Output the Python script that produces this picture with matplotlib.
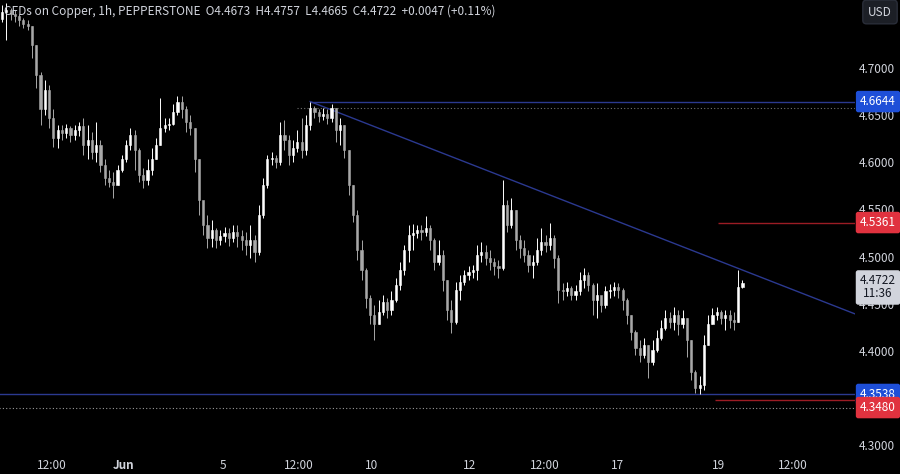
import matplotlib
matplotlib.use("Agg")
import matplotlib.pyplot as plt
import numpy as np

plt.rcParams['font.family'] = ['Noto Sans CJK JP', 'DejaVu Sans']

# 2-hour bars (prices in USD)
closes = [4.759, 4.761, 4.757, 4.755, 4.751, 4.747, 4.745, 4.724, 4.693, 4.656,
          4.677, 4.647, 4.626, 4.634, 4.631, 4.636, 4.629, 4.634, 4.639, 4.618,
          4.624, 4.611, 4.618, 4.597, 4.583, 4.579, 4.576, 4.592, 4.603, 4.618,
          4.629, 4.613, 4.587, 4.581, 4.592, 4.603, 4.618, 4.636, 4.640, 4.641,
          4.653, 4.664, 4.656, 4.643, 4.636, 4.603, 4.560, 4.534, 4.520, 4.528,
          4.518, 4.522, 4.525, 4.520, 4.526, 4.522, 4.518, 4.512, 4.518, 4.505,
          4.544, 4.576, 4.603, 4.605, 4.600, 4.629, 4.624, 4.608, 4.615, 4.622,
          4.613, 4.640, 4.658, 4.653, 4.649, 4.651, 4.647, 4.658, 4.634, 4.640,
          4.613, 4.576, 4.544, 4.507, 4.486, 4.456, 4.438, 4.428, 4.441, 4.452,
          4.443, 4.454, 4.470, 4.486, 4.507, 4.523, 4.525, 4.528, 4.526, 4.530,
          4.518, 4.494, 4.502, 4.475, 4.443, 4.431, 4.465, 4.473, 4.480, 4.484,
          4.486, 4.502, 4.505, 4.499, 4.494, 4.490, 4.488, 4.555, 4.534, 4.549,
          4.518, 4.509, 4.502, 4.491, 4.494, 4.507, 4.516, 4.512, 4.520, 4.499,
          4.465, 4.463, 4.467, 4.459, 4.463, 4.475, 4.480, 4.470, 4.454, 4.459,
          4.449, 4.463, 4.465, 4.468, 4.465, 4.454, 4.438, 4.420, 4.403, 4.396,
          4.406, 4.388, 4.401, 4.414, 4.424, 4.435, 4.431, 4.438, 4.428, 4.435,
          4.412, 4.378, 4.361, 4.364, 4.406, 4.428, 4.438, 4.441, 4.435, 4.438,
          4.433, 4.431, 4.4673, 4.4722]

highs = [4.767, 4.769, 4.764, 4.761, 4.757, 4.753, 4.751, 4.745, 4.724, 4.696,
         4.687, 4.682, 4.656, 4.640, 4.640, 4.641, 4.638, 4.640, 4.643, 4.647,
         4.640, 4.632, 4.643, 4.624, 4.603, 4.592, 4.590, 4.597, 4.608, 4.624,
         4.636, 4.634, 4.615, 4.594, 4.603, 4.615, 4.626, 4.668, 4.647, 4.647,
         4.662, 4.670, 4.670, 4.660, 4.650, 4.636, 4.603, 4.555, 4.544, 4.539,
         4.530, 4.528, 4.531, 4.530, 4.533, 4.533, 4.528, 4.526, 4.534, 4.523,
         4.555, 4.583, 4.608, 4.611, 4.608, 4.643, 4.645, 4.629, 4.624, 4.634,
         4.647, 4.650, 4.6644, 4.660, 4.656, 4.658, 4.656, 4.662, 4.658, 4.647,
         4.640, 4.613, 4.576, 4.549, 4.518, 4.488, 4.459, 4.449, 4.454, 4.459,
         4.456, 4.463, 4.477, 4.494, 4.512, 4.534, 4.535, 4.534, 4.533, 4.543,
         4.534, 4.520, 4.518, 4.507, 4.475, 4.454, 4.473, 4.481, 4.486, 4.490,
         4.491, 4.512, 4.516, 4.512, 4.507, 4.499, 4.496, 4.581, 4.560, 4.562,
         4.549, 4.523, 4.518, 4.507, 4.502, 4.520, 4.530, 4.523, 4.536, 4.523,
         4.502, 4.472, 4.473, 4.469, 4.470, 4.484, 4.488, 4.484, 4.472, 4.472,
         4.456, 4.469, 4.471, 4.473, 4.472, 4.467, 4.456, 4.438, 4.422, 4.412,
         4.414, 4.406, 4.412, 4.422, 4.433, 4.443, 4.441, 4.447, 4.443, 4.443,
         4.435, 4.412, 4.380, 4.373, 4.417, 4.438, 4.446, 4.447, 4.443, 4.443,
         4.443, 4.441, 4.486, 4.4757]

lows = [4.749, 4.730, 4.751, 4.749, 4.745, 4.742, 4.740, 4.711, 4.679, 4.640,
        4.650, 4.636, 4.616, 4.615, 4.624, 4.626, 4.622, 4.624, 4.628, 4.608,
        4.603, 4.603, 4.600, 4.590, 4.576, 4.574, 4.562, 4.576, 4.590, 4.600,
        4.613, 4.592, 4.579, 4.573, 4.576, 4.587, 4.603, 4.618, 4.632, 4.634,
        4.640, 4.650, 4.647, 4.632, 4.629, 4.590, 4.544, 4.523, 4.509, 4.510,
        4.509, 4.512, 4.516, 4.511, 4.516, 4.510, 4.507, 4.502, 4.499, 4.494,
        4.502, 4.541, 4.573, 4.597, 4.594, 4.597, 4.613, 4.597, 4.600, 4.611,
        4.605, 4.608, 4.634, 4.647, 4.643, 4.645, 4.641, 4.643, 4.622, 4.618,
        4.605, 4.565, 4.537, 4.496, 4.475, 4.446, 4.428, 4.412, 4.428, 4.438,
        4.435, 4.438, 4.452, 4.465, 4.481, 4.494, 4.507, 4.520, 4.518, 4.522,
        4.507, 4.486, 4.491, 4.463, 4.433, 4.419, 4.428, 4.454, 4.470, 4.475,
        4.477, 4.475, 4.494, 4.491, 4.486, 4.481, 4.477, 4.486, 4.526, 4.530,
        4.507, 4.499, 4.494, 4.484, 4.477, 4.491, 4.502, 4.505, 4.507, 4.488,
        4.451, 4.454, 4.458, 4.454, 4.454, 4.459, 4.467, 4.463, 4.438, 4.435,
        4.441, 4.446, 4.456, 4.458, 4.456, 4.443, 4.428, 4.412, 4.396, 4.388,
        4.392, 4.371, 4.385, 4.399, 4.412, 4.422, 4.424, 4.422, 4.417, 4.424,
        4.393, 4.369, 4.355, 4.3538, 4.359, 4.406, 4.428, 4.433, 4.428, 4.422,
        4.424, 4.422, 4.431, 4.4665]

first_open = 4.752

# time axis labels (bar index positions)
time_ticks = [11.7, 28.5, 51.6, 69.4, 86.4, 109.3, 126.9, 143.9, 167.3, 184.8]
time_labels = ["12:00", "Jun", "5", "12:00", "10", "12", "12:00", "17", "19", "12:00"]

price_ticks = [4.30, 4.40, 4.45, 4.50, 4.55, 4.60, 4.65, 4.70]

# drawn levels
res_level = 4.6644
sup_level = 4.3538
red_hi = 4.5361
red_lo = 4.3480
dot_hi = 4.6576
dot_lo = 4.3395
trend_x = [72, 200.5]
trend_y = [4.6644, 4.4371]

title = ("CFDs on Copper, 1h, PEPPERSTONE  O4.4673  H4.4757  L4.4665  "
         "C4.4722  +0.0047 (+0.11%)")

opens = [first_open] + closes[:-1]
idx = np.arange(len(closes))
o = np.array(opens)
c = np.array(closes)
up = c >= o

BG = "#000000"
TXT = "#d1d4dc"
BLUE_LINE = "#2b3990"
RED_LINE = "#9b1c24"
FS = 8.5

fig = plt.figure(figsize=(9, 4.74), dpi=100, facecolor=BG)
ax = fig.add_axes([0, 19 / 474, 855 / 900, 455 / 474], facecolor=BG)

colors = np.where(up, "#ffffff", "#a8a8a8")
ax.vlines(idx, lows, highs, colors=colors, linewidth=0.7, zorder=3)
ax.bar(idx, c - o, bottom=o, width=0.5, color=colors, edgecolor=colors,
       linewidth=0.4, zorder=4)

xmax = 199.3
ax.hlines(res_level, 72, xmax, color=BLUE_LINE, linewidth=1.0, zorder=2)
ax.hlines(sup_level, -1, xmax, color=BLUE_LINE, linewidth=1.0, zorder=2)
ax.hlines(dot_hi, 69, xmax, color="#707070", linewidth=0.8, linestyles=(0, (1, 2)), zorder=2)
ax.hlines(dot_lo, -1, xmax, color="#9a9a9a", linewidth=0.8, linestyles=(0, (1, 2)), zorder=2)
ax.hlines(red_hi, 167.3, xmax, color=RED_LINE, linewidth=1.0, zorder=2)
ax.hlines(red_lo, 166.6, xmax, color=RED_LINE, linewidth=1.0, zorder=2)
ax.plot(trend_x, trend_y, color=BLUE_LINE, linewidth=1.0, zorder=2)

ax.set_xlim(-0.47, xmax)
ax.set_ylim(4.2896, 4.7721)

for s in ax.spines.values():
    s.set_visible(False)

ax.set_xticks(time_ticks)
ax.set_xticklabels(time_labels)
for lab in ax.get_xticklabels():
    if lab.get_text() == "Jun":
        lab.set_fontweight("bold")
ax.tick_params(axis="x", length=0, pad=3, labelsize=FS, labelcolor=TXT)

ax.yaxis.tick_right()
ax.set_yticks(price_ticks)
ax.set_yticklabels([f"{p:.4f}" for p in price_ticks])
ax.tick_params(axis="y", length=0, pad=29, labelsize=FS, labelcolor=TXT)
for lab in ax.get_yticklabels():
    lab.set_horizontalalignment("right")

# price labels on the scale
ytr = ax.get_yaxis_transform()
box_x = 878 / 855


def price_box(y, text, face, fg="white", dy=0):
    ax.annotate(text, xy=(box_x, y), xycoords=ytr, xytext=(0, dy),
                textcoords="offset points", ha="center", va="center",
                fontsize=FS, color=fg, zorder=10, annotation_clip=False,
                bbox=dict(boxstyle="round,pad=0.3,rounding_size=0.15",
                          fc=face, ec=face))


price_box(res_level, f"{res_level:.4f}", "#1e4fd8")
price_box(red_hi, f"{red_hi:.4f}", "#e0323f")
price_box(sup_level, f"{sup_level:.4f}", "#1e4fd8")
price_box(red_lo, f"{red_lo:.4f}", "#e0323f", dy=-5.5)
ax.annotate(f"{closes[-1]:.4f}\n11:36", xy=(box_x, closes[-1]), xycoords=ytr,
            xytext=(0, 6), textcoords="offset points", ha="center", va="top",
            fontsize=FS, color="#131722", zorder=10, annotation_clip=False,
            linespacing=1.0,
            bbox=dict(boxstyle="round,pad=0.3,rounding_size=0.15",
                      fc="#d1d4dc", ec="#d1d4dc"))

fig.text(4 / 900, 1 - 11 / 474, title, color=TXT, fontsize=FS,
         ha="left", va="center")
fig.text(880 / 900, 1 - 12 / 474, "USD", color=TXT, fontsize=FS,
         ha="center", va="center",
         bbox=dict(boxstyle="round,pad=0.45,rounding_size=0.3",
                   fc="#1c1f26", ec="#2a2e39"))

fig.savefig("out.png", dpi=100, facecolor=BG)
